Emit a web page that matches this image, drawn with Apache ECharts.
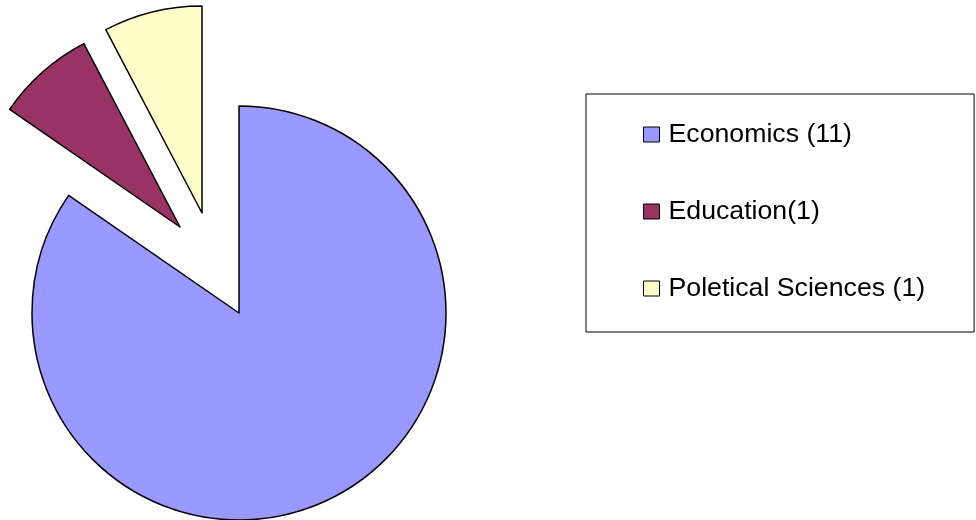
<!DOCTYPE html>
<html><head><meta charset="utf-8">
<script src="https://cdn.jsdelivr.net/npm/echarts@6/dist/echarts.min.js"></script>
<style>html,body{margin:0;padding:0;background:#fff;}#c{width:976px;height:520px;}</style>
</head><body><div id="c"></div>
<script>
const categories = ['Economics (11)', 'Education(1)', 'Poletical Sciences (1)'];
const values = [11, 1, 1];
const colors = ['#9999FF', '#993366', '#FFFFCC'];
// per-slice pie centres (exploded slices)
const centers = [[239, 313], [180, 227], [202, 213]];

const series = categories.map((name, i) => {
  const before = values.slice(0, i).reduce((a, b) => a + b, 0);
  const after = values.slice(i + 1).reduce((a, b) => a + b, 0);
  const data = [];
  if (before > 0) data.push({ value: before, name: '_gapA' + i, itemStyle: { opacity: 0, borderWidth: 0 } });
  data.push({ value: values[i], name: name, itemStyle: { color: colors[i], borderColor: '#000', borderWidth: 1.5 } });
  if (after > 0) data.push({ value: after, name: '_gapB' + i, itemStyle: { opacity: 0, borderWidth: 0 } });
  return {
    type: 'pie',
    center: centers[i],
    radius: 207,
    startAngle: 90,
    clockwise: true,
    silent: true,
    label: { show: false },
    labelLine: { show: false },
    emphasis: { disabled: true },
    data: data
  };
});

const chart = echarts.init(document.getElementById('c'), null, { renderer: 'canvas' });
chart.setOption({
  animation: false,
  backgroundColor: '#fff',
  legend: {
    data: categories,
    orient: 'vertical',
    left: 586,
    top: 94,
    padding: [27, 49, 30, 57],
    borderColor: '#000',
    borderWidth: 1,
    itemWidth: 16,
    itemHeight: 15,
    itemGap: 50,
    icon: 'rect',
    itemStyle: { borderColor: '#000', borderWidth: 1 },
    selectedMode: false,
    textStyle: { fontFamily: 'Liberation Sans, Arial, sans-serif', fontSize: 26.7, color: '#000', padding: [0, 0, 0, 4] }
  },
  series: series
});
</script></body></html>
